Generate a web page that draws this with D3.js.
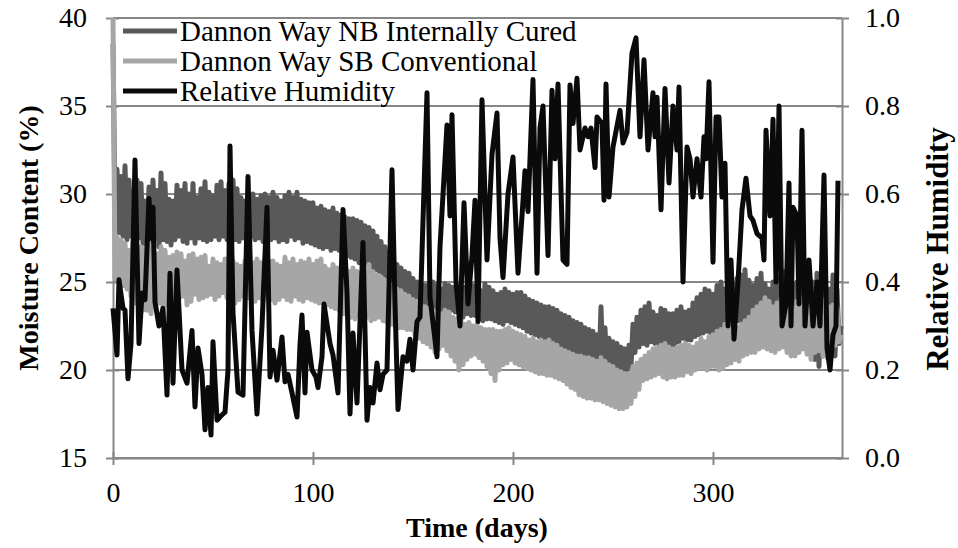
<!DOCTYPE html>
<html>
<head>
<meta charset="utf-8">
<script src="https://cdn.jsdelivr.net/npm/d3@7"></script>
<style>
  body { margin: 0; background: #fff; }
</style>
</head>
<body>
<div id="chart-area"></div>
<script>
// Data
const SERIES_NAMES = ['Dannon Way NB Internally Cured', 'Dannon Way SB Conventional', 'Relative Humidity'];
const X_TICKS = [0, 100, 200, 300];
const MC_TICKS = [15, 20, 25, 30, 35, 40];
const RH_TICKS = [0, 0.2, 0.4, 0.6, 0.8, 1.0];

// moisture content (%), one reading per day from day 0
const nbValues = [
  38.5, 29.0, 31.4, 27.8, 31.0, 27.6, 31.6, 27.4, 30.8, 27.6,
  30.2, 27.3, 30.8, 27.5, 30.6, 27.2, 29.6, 27.0, 30.4, 27.3,
  30.8, 27.5, 30.2, 27.0, 31.2, 27.4, 30.6, 27.3, 29.7, 27.1,
  29.6, 27.4, 30.5, 27.6, 30.2, 27.3, 30.6, 27.2, 30.0, 27.5,
  30.6, 27.2, 29.8, 27.5, 30.3, 27.4, 30.7, 27.3, 30.1, 27.4,
  29.9, 27.6, 30.5, 27.4, 30.7, 27.6, 30.2, 27.4, 30.6, 27.5,
  30.8, 27.4, 30.3, 27.3, 29.8, 27.5, 29.6, 27.2, 29.9, 27.6,
  30.0, 27.4, 29.7, 27.5, 29.9, 27.3, 30.0, 27.6, 29.8, 27.4,
  30.1, 27.5, 29.8, 27.3, 29.6, 27.4, 29.9, 27.3, 30.1, 27.6,
  29.8, 27.4, 30.1, 27.5, 29.7, 27.2, 29.6, 27.3, 29.5, 27.2,
  29.5, 27.1, 29.2, 27.0, 29.3, 26.9, 29.1, 27.0, 29.0, 26.8,
  29.2, 26.9, 28.9, 26.8, 28.8, 26.6, 28.7, 26.5, 28.6, 26.4,
  28.6, 26.3, 28.5, 26.1, 28.4, 26.0, 28.2, 25.9, 28.1, 25.8,
  27.9, 25.7, 27.6, 25.6, 27.3, 25.4, 27.0, 25.3, 26.7, 25.1,
  26.2, 24.8, 26.0, 24.6, 25.8, 24.5, 25.6, 24.2, 25.5, 24.0,
  25.2, 23.8, 25.0, 23.6, 24.9, 23.4, 24.8, 23.3, 24.9, 23.4,
  25.0, 23.4, 24.8, 23.3, 24.6, 23.2, 24.9, 23.5, 24.8, 23.4,
  24.7, 23.3, 24.6, 23.2, 24.5, 23.0, 24.7, 23.2, 24.8, 23.1,
  24.8, 23.1, 24.6, 22.9, 24.5, 22.8, 24.9, 22.9, 24.7, 22.9,
  24.5, 22.8, 24.3, 22.7, 24.4, 22.6, 24.6, 22.8, 24.4, 22.7,
  24.3, 22.6, 24.4, 22.5, 24.4, 22.4, 24.2, 22.2, 24.0, 22.1,
  23.9, 22.0, 23.8, 21.9, 23.7, 21.8, 23.6, 21.7, 23.6, 21.6,
  23.5, 21.6, 23.4, 21.4, 23.2, 21.3, 23.1, 21.2, 23.0, 21.1,
  22.8, 20.9, 22.7, 20.8, 22.6, 20.7, 22.4, 20.5, 22.3, 20.3,
  22.2, 20.2, 22.0, 20.1, 23.6, 20.0, 22.4, 19.9, 21.8, 19.9,
  21.6, 19.8, 21.5, 19.8, 21.3, 19.9, 21.2, 20.0, 21.4, 20.2,
  22.6, 21.0, 23.0, 21.3, 23.4, 21.5, 23.6, 21.4, 23.8, 21.6,
  23.3, 21.5, 23.1, 21.4, 23.5, 21.6, 23.4, 21.5, 23.2, 21.4,
  23.2, 21.4, 23.4, 21.6, 23.6, 21.8, 23.3, 21.7, 23.4, 21.7,
  23.8, 21.9, 24.1, 22.0, 24.3, 22.1, 24.6, 22.2, 24.5, 22.1,
  24.3, 22.0, 24.8, 22.3, 25.0, 22.4, 24.6, 22.5, 24.4, 22.6,
  24.9, 22.7, 25.2, 22.8, 25.4, 22.6, 25.7, 22.5, 25.1, 22.4,
  24.8, 22.4, 25.2, 22.7, 25.5, 22.9, 24.9, 22.7, 24.6, 22.6,
  25.0, 22.4, 25.3, 22.2, 25.0, 22.0, 25.6, 21.8, 25.2, 21.6,
  24.9, 21.5, 25.0, 21.8, 25.2, 22.0, 24.8, 21.4, 24.4, 21.0,
  25.0, 20.6, 25.5, 20.2, 25.1, 20.8, 24.8, 21.3, 24.6, 20.9,
  25.4, 20.8, 24.6, 21.5, 22.5
];
const sbValues = [
  40.0, 25.2, 27.6, 24.9, 27.4, 24.8, 27.2, 24.6, 26.8, 24.2,
  27.3, 23.8, 26.9, 23.6, 27.0, 23.4, 26.9, 23.4, 27.2, 23.2,
  27.0, 23.6, 26.6, 23.8, 27.0, 23.5, 26.8, 23.7, 26.4, 24.0,
  26.5, 23.8, 26.7, 24.0, 26.6, 24.2, 26.2, 23.7, 26.5, 23.9,
  26.6, 24.3, 26.3, 24.0, 26.4, 24.1, 26.5, 24.2, 25.9, 24.3,
  26.3, 24.0, 26.1, 24.2, 26.0, 24.4, 26.3, 24.1, 26.4, 24.1,
  26.2, 23.8, 26.0, 24.0, 25.9, 24.2, 26.2, 24.1, 26.4, 24.0,
  26.1, 23.9, 26.3, 24.1, 26.1, 23.9, 26.3, 24.2, 26.2, 24.0,
  26.2, 23.8, 26.0, 24.0, 25.9, 24.2, 26.4, 24.0, 26.1, 23.9,
  26.3, 24.2, 26.0, 24.0, 26.2, 23.9, 26.1, 24.1, 26.3, 24.0,
  26.0, 23.9, 26.2, 23.8, 26.3, 23.8, 25.9, 23.7, 25.7, 23.6,
  26.0, 23.5, 25.8, 23.4, 25.6, 23.2, 25.7, 23.1, 25.6, 23.0,
  25.8, 22.9, 25.6, 23.1, 25.5, 23.2, 25.8, 23.0, 26.0, 22.8,
  25.6, 22.9, 25.4, 23.0, 25.3, 22.8, 25.1, 22.7, 24.9, 22.6,
  24.7, 22.5, 24.6, 22.4, 24.5, 22.4, 24.3, 22.3, 24.2, 22.3,
  24.0, 22.0, 23.9, 21.8, 23.7, 21.6, 23.6, 21.5, 23.5, 21.3,
  23.4, 21.0, 23.3, 21.2, 23.2, 21.4, 23.4, 21.1, 23.3, 20.8,
  23.0, 20.5, 22.9, 20.0, 22.8, 20.3, 22.6, 20.6, 22.7, 20.8,
  22.5, 20.9, 22.6, 20.7, 22.4, 20.5, 22.3, 20.2, 22.3, 19.8,
  22.3, 19.4, 22.2, 20.0, 22.2, 20.3, 22.3, 20.4, 22.4, 20.6,
  22.2, 20.4, 22.1, 20.3, 22.0, 20.2, 21.9, 20.1, 21.7, 20.0,
  21.8, 19.9, 21.6, 19.8, 21.7, 19.8, 21.6, 19.7, 21.7, 19.7,
  21.5, 19.6, 21.4, 19.5, 21.2, 19.4, 21.1, 19.2, 21.0, 19.0,
  20.9, 18.9, 20.8, 18.6, 20.8, 18.5, 20.7, 18.4, 20.7, 18.4,
  20.6, 18.3, 20.5, 18.3, 20.7, 18.2, 20.5, 18.1, 20.3, 18.0,
  20.2, 17.9, 20.0, 17.8, 19.9, 17.8, 19.8, 17.9, 19.8, 18.1,
  20.2, 18.5, 20.4, 18.9, 20.6, 19.4, 20.8, 19.5, 21.0, 19.6,
  21.2, 19.7, 21.3, 19.8, 21.4, 19.6, 21.5, 19.5, 21.3, 19.6,
  21.2, 19.6, 21.3, 19.7, 21.4, 19.7, 21.5, 19.9, 21.4, 19.8,
  21.3, 20.0, 21.5, 20.1, 21.8, 20.1, 21.6, 20.0, 21.9, 20.2,
  22.0, 20.2, 22.2, 20.0, 22.3, 20.1, 22.6, 20.3, 22.8, 20.4,
  22.5, 20.6, 22.4, 20.5, 22.6, 20.8, 22.8, 20.9, 23.0, 21.0,
  23.4, 21.0, 23.6, 21.2, 23.8, 21.3, 24.1, 21.2, 23.9, 21.1,
  23.6, 21.0, 23.8, 21.2, 24.0, 21.3, 23.7, 21.0, 23.5, 20.8,
  23.5, 20.8, 23.9, 21.0, 24.1, 21.2, 23.8, 20.9, 23.6, 20.6,
  23.8, 21.0, 24.0, 21.1, 23.7, 20.8, 24.0, 20.7, 23.6, 21.0,
  23.7, 21.4, 23.5, 21.6, 22.0
];

// relative humidity, irregular days (peaks and troughs)
const rhDays = [
  0, 2, 3, 5, 6, 7.5, 9, 11, 13, 14.5, 16, 18, 19, 20, 21, 23, 25, 27, 28.5, 30,
  32, 34.5, 37, 39.5, 41, 42.5, 44.5, 46, 47.5, 49, 50, 52, 54.5, 56, 57.5, 58.5, 60, 62.5, 65, 67.5,
  69.5, 72, 74.5, 77, 78.5, 80, 82, 84.5, 86, 87.5, 89.5, 92, 93.5, 94.5, 96, 97, 99.5, 101.5, 102.5, 104.5,
  105.5, 108.5, 110, 112.5, 115, 117, 118.5, 120, 122, 125, 127, 128.5, 130, 132, 133.5, 135, 137, 139.5, 141, 142.5,
  145, 147, 148.5, 150, 152, 153.5, 157, 158.5, 162, 163.5, 167, 168.5, 169.5, 171.5, 173.5, 175.5, 177.5, 179.5, 181, 182.5,
  184.5, 187, 189.5, 192, 193.5, 195, 197.5, 200, 202.5, 204.5, 206, 207.5, 210, 212, 213.5, 215, 217.5, 219.5, 221, 222.5,
  225, 227, 228.5, 230, 232, 233.5, 236, 237.5, 239, 241, 242, 244.5, 245.5, 246.5, 248, 250, 253.5, 255, 257, 259.5,
  261.5, 263.5, 265.5, 267.5, 270, 271, 272, 274, 276, 278, 280, 282, 283, 285, 287, 288.5, 290, 292, 294, 295.5,
  296.5, 298, 300, 301.5, 303, 304.5, 306, 307.5, 309, 310.5, 312.5, 314.5, 316.5, 318.5, 320, 322, 324.5, 325.5, 326.5, 328.5,
  330, 331.5, 333, 334.5, 336.5, 338, 339, 340, 342, 343, 344.5, 346, 348, 350, 352, 353.5, 355.5, 357, 358.5, 360,
  361.5, 362.5
];
const rhValues = [
  0.34, 0.234, 0.405, 0.34, 0.336, 0.18, 0.26, 0.677, 0.26, 0.375, 0.36, 0.59, 0.50, 0.57, 0.355, 0.30, 0.34, 0.143, 0.42, 0.17,
  0.427, 0.20, 0.17, 0.29, 0.116, 0.25, 0.19, 0.064, 0.16, 0.052, 0.264, 0.086, 0.098, 0.104, 0.20, 0.709, 0.33, 0.15, 0.143, 0.64,
  0.29, 0.10, 0.30, 0.57, 0.184, 0.245, 0.177, 0.275, 0.173, 0.19, 0.148, 0.093, 0.257, 0.325, 0.148, 0.286, 0.20, 0.184, 0.16, 0.23,
  0.35, 0.26, 0.234, 0.148, 0.565, 0.375, 0.10, 0.284, 0.125, 0.49, 0.086, 0.16, 0.125, 0.216, 0.155, 0.19, 0.20, 0.655, 0.35, 0.11,
  0.23, 0.22, 0.27, 0.20, 0.31, 0.32, 0.83, 0.365, 0.23, 0.48, 0.757, 0.55, 0.78, 0.40, 0.30, 0.58, 0.35, 0.46, 0.586, 0.31,
  0.814, 0.45, 0.69, 0.784, 0.50, 0.41, 0.60, 0.684, 0.42, 0.55, 0.653, 0.56, 0.86, 0.42, 0.75, 0.80, 0.46, 0.836, 0.68, 0.85,
  0.45, 0.44, 0.848, 0.76, 0.863, 0.70, 0.75, 0.73, 0.75, 0.66, 0.775, 0.76, 0.586, 0.85, 0.593, 0.707, 0.79, 0.716, 0.74, 0.92,
  0.955, 0.73, 0.905, 0.70, 0.83, 0.73, 0.82, 0.564, 0.84, 0.625, 0.80, 0.70, 0.843, 0.40, 0.707, 0.68, 0.593, 0.68, 0.593, 0.73,
  0.68, 0.855, 0.445, 0.775, 0.775, 0.593, 0.67, 0.30, 0.45, 0.27, 0.40, 0.564, 0.636, 0.55, 0.54, 0.51, 0.50, 0.45, 0.745, 0.55,
  0.77, 0.40, 0.80, 0.30, 0.35, 0.625, 0.30, 0.57, 0.55, 0.35, 0.745, 0.30, 0.45, 0.30, 0.40, 0.30, 0.643, 0.25, 0.20, 0.28,
  0.30, 0.63
];

// Constants
const MARGIN = { LEFT: 113, RIGHT: 116, TOP: 18, BOTTOM: 90 };
const WIDTH = 958 - MARGIN.LEFT - MARGIN.RIGHT;
const HEIGHT = 548 - MARGIN.TOP - MARGIN.BOTTOM;
const GRID = '#878787';
const COLORS = ['#595959', '#a6a6a6', '#0a0a0a'];
const LINE_W = 5;
const FONT = 28;
const SERIF = 'Liberation Serif';

const svg = d3.select('#chart-area')
    .append('svg')
    .attr('width', 958)
    .attr('height', 548)
    .style('font-family', SERIF);

const g = svg.append('g')
    .attr('transform', `translate(${MARGIN.LEFT}, ${MARGIN.TOP})`);

// Scales
const x = d3.scaleLinear().domain([0, 364.5]).range([0, WIDTH]);
const yMc = d3.scaleLinear().domain([15, 40]).range([HEIGHT, 0]);
const yRh = d3.scaleLinear().domain([0, 1]).range([HEIGHT, 0]);

// Horizontal gridlines
g.selectAll('.grid')
    .data(MC_TICKS)
    .enter().append('line')
    .attr('x1', 0).attr('x2', WIDTH)
    .attr('y1', d => yMc(d)).attr('y2', d => yMc(d))
    .attr('stroke', GRID).attr('stroke-width', 2);

// Axes
function styleAxis(sel) {
    sel.attr('font-family', SERIF).attr('font-size', FONT);
    sel.selectAll('.domain').attr('stroke', GRID).attr('stroke-width', 2);
    sel.selectAll('.tick line').attr('stroke', GRID).attr('stroke-width', 2);
    sel.selectAll('.tick text').attr('fill', '#000').style('font-family', SERIF);
}

const xAxis = g.append('g')
    .attr('transform', `translate(0, ${HEIGHT})`)
    .call(d3.axisBottom(x).tickValues(X_TICKS).tickSizeOuter(0).tickSizeInner(7).tickPadding(0))
    .call(styleAxis);
xAxis.selectAll('.tick line').attr('y1', -6);
xAxis.selectAll('.tick text').attr('y', 44).attr('dy', 0);

const leftAxis = g.append('g')
    .call(d3.axisLeft(yMc).tickValues(MC_TICKS).tickSizeOuter(0).tickSizeInner(7).tickPadding(19))
    .call(styleAxis);
leftAxis.selectAll('.tick line').attr('x1', 6);

const rightAxis = g.append('g')
    .attr('transform', `translate(${WIDTH}, 0)`)
    .call(d3.axisRight(yRh).tickValues(RH_TICKS).tickFormat(d3.format('.1f'))
        .tickSizeOuter(0).tickSizeInner(7).tickPadding(16))
    .call(styleAxis);
rightAxis.selectAll('.tick line').attr('x1', -6);

// Lines
const days = nbValues.map((_, i) => i);
const mcLine = d3.line().x(d => x(d[0])).y(d => yMc(d[1]));
const rhLine = d3.line().x(d => x(d[0])).y(d => yRh(d[1]));

g.append('path')
    .datum(days.map((d, i) => [d, nbValues[i]]))
    .attr('d', mcLine)
    .attr('fill', 'none').attr('stroke', COLORS[0])
    .attr('stroke-width', LINE_W).attr('stroke-linejoin', 'round');

g.append('path')
    .datum(days.map((d, i) => [d, sbValues[i]]))
    .attr('d', mcLine)
    .attr('fill', 'none').attr('stroke', COLORS[1])
    .attr('stroke-width', LINE_W).attr('stroke-linejoin', 'round');

g.append('path')
    .datum(rhDays.map((d, i) => [d, rhValues[i]]))
    .attr('d', rhLine)
    .attr('fill', 'none').attr('stroke', COLORS[2])
    .attr('stroke-width', LINE_W).attr('stroke-linejoin', 'round');

// Legend
const legend = svg.append('g');
SERIES_NAMES.forEach((name, i) => {
    const ly = 31 + i * 30;
    legend.append('line')
        .attr('x1', 123).attr('x2', 177)
        .attr('y1', ly).attr('y2', ly)
        .attr('stroke', COLORS[i]).attr('stroke-width', LINE_W);
    legend.append('text')
        .attr('x', 180).attr('y', ly + 10)
        .attr('font-size', 29)
        .style('font-family', SERIF)
        .text(name);
});

// Axis titles
svg.append('text')
    .attr('x', 477).attr('y', 537)
    .attr('text-anchor', 'middle')
    .attr('font-size', FONT).attr('font-weight', 'bold')
    .style('font-family', SERIF)
    .text('Time (days)');

svg.append('text')
    .attr('transform', 'translate(38, 238) rotate(-90)')
    .attr('text-anchor', 'middle')
    .attr('font-size', FONT).attr('font-weight', 'bold')
    .style('font-family', SERIF)
    .text('Moisture Content (%)');

svg.append('text')
    .attr('transform', 'translate(948, 249) rotate(-90)')
    .attr('text-anchor', 'middle')
    .attr('font-size', 31).attr('font-weight', 'bold')
    .style('font-family', SERIF)
    .text('Relative Humidity');
</script>
</body>
</html>
